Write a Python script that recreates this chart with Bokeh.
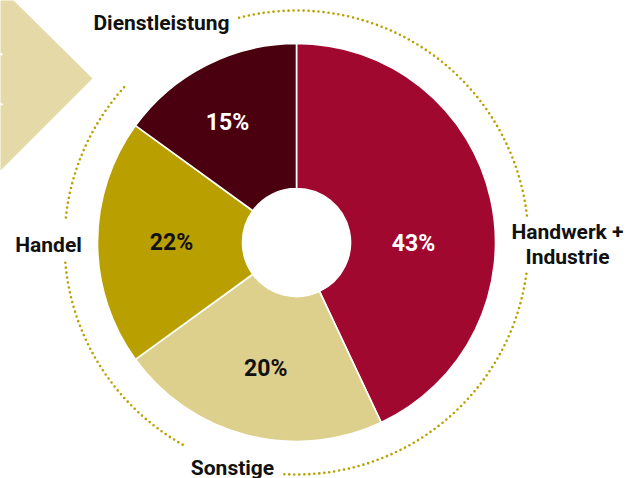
import numpy as np
from bokeh.plotting import figure
from bokeh.models import Range1d, ColumnDataSource
from bokeh.core.properties import value
from bokeh.embed import file_html
from bokeh.resources import INLINE

# ---- data ----
categories = ["Handwerk +\nIndustrie", "Sonstige", "Handel", "Dienstleistung"]
shares = [43, 22, 20, 15]                  # slice sizes as drawn (clockwise from top)
pct_labels = ["43%", "20%", "22%", "15%"]  # printed percentages as in the reference
colors = ["#A10830", "#DDCF8C", "#B9A000", "#4B0010"]
pct_colors = ["#FFFFFF", "#111111", "#111111", "#FFFFFF"]

# ---- style ----
W, H = 637, 478
CX, CY = 296, 242           # pie centre in pixels
R_OUT, R_IN, R_RING = 199, 54, 232
FONT = "Roboto"
label_radius = [117, 130, 125, 138]
label_nudge_deg = [-13, 0.7, 0, 3]
cat_label_px = [(567, 244), (232, 467), (48, 244), (161, 22)]
ring_gaps_deg = [(-7.5, 6.7), (105, 138), (175, 185), (241, 267)]


def px(x, y):
    return x - CX, CY - y


p = figure(width=W, height=H, x_range=Range1d(-CX, W - CX), y_range=Range1d(CY - H, CY),
           output_backend="svg", toolbar_location=None, min_border=0,
           x_axis_type=None, y_axis_type=None)
p.grid.visible = False
p.outline_line_color = None
p.background_fill_color = "white"
p.border_fill_color = "white"

# decorative chevron top-left
chev = [px(-2, -15), px(92, 78), px(-2, 172)]
p.patch([c[0] for c in chev], [c[1] for c in chev], fill_color="#E5D9A8", line_color=None)
for yy in (51, 101):
    tri = [px(-1, yy), px(3, yy + 3), px(-1, yy + 5)]
    p.patch([c[0] for c in tri], [c[1] for c in tri], fill_color="white", line_color=None)

# wedges
fr = np.array(shares, dtype=float) / sum(shares)
cum = np.concatenate([[0], np.cumsum(fr)])
starts = np.pi / 2 - 2 * np.pi * cum[:-1]
ends = np.pi / 2 - 2 * np.pi * cum[1:]
src = ColumnDataSource(dict(start=ends, end=starts, color=colors))
p.annular_wedge(x=0, y=0, inner_radius=R_IN, outer_radius=R_OUT,
                start_angle="start", end_angle="end", fill_color="color",
                line_color="white", line_width=1.6, source=src)
p.circle(x=0, y=0, radius=R_IN, fill_color="white", line_color=None)

# percentage labels
mid = (starts + ends) / 2 + np.radians(label_nudge_deg)
lr = np.array(label_radius, dtype=float)
lsrc = ColumnDataSource(dict(x=lr * np.cos(mid), y=lr * np.sin(mid),
                             t=pct_labels, c=pct_colors))
p.text(x="x", y="y", text="t", text_color="c", source=lsrc, text_align="center",
       text_baseline="middle", text_font=value(FONT), text_font_style="bold",
       text_font_size="23px")

# dotted ring with gaps at category labels
gaps = sorted(ring_gaps_deg)
arc_s, arc_e = [], []
for i, (g0, g1) in enumerate(gaps):
    nxt = gaps[(i + 1) % len(gaps)][0] + (360 if i == len(gaps) - 1 else 0)
    arc_s.append(np.radians(g1))
    arc_e.append(np.radians(nxt))
p.arc(x=0, y=0, radius=R_RING, start_angle=arc_s, end_angle=arc_e, direction="anticlock",
      line_color="#B9A000", line_width=2.6, line_dash="0 5", line_cap="round")

# category labels
cx = [px(*c)[0] for c in cat_label_px]
cy = [px(*c)[1] for c in cat_label_px]
csrc = ColumnDataSource(dict(x=cx, y=cy, t=categories))
p.text(x="x", y="y", text="t", source=csrc, text_align="center", text_baseline="middle",
       text_color="#111111", text_font=value(FONT), text_font_style="bold",
       text_font_size="21px", text_line_height=1.05)

open("out.html", "w").write(file_html(p, INLINE))
